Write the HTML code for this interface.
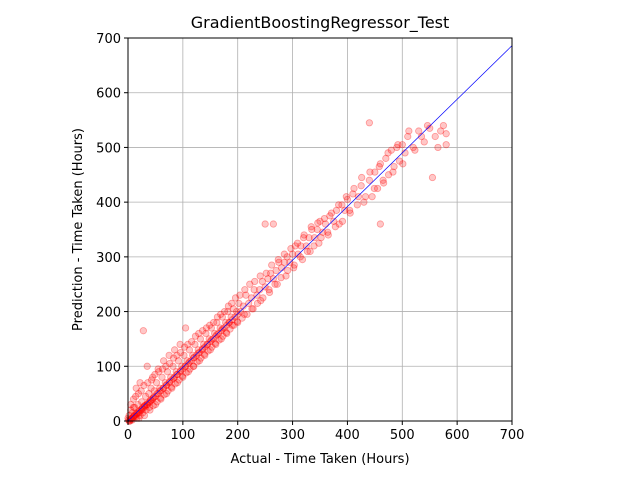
<!DOCTYPE html>
<html><head><meta charset="utf-8"><style>
html,body{margin:0;padding:0;background:#fff;}
svg{display:block;font-family:"DejaVu Sans","Liberation Sans",sans-serif;}
</style></head><body>
<svg id="chart" width="640" height="480">
<rect x="0" y="0" width="640" height="480" fill="#fff"/>
<text x="320" y="28" text-anchor="middle" font-size="16">GradientBoostingRegressor_Test</text>
<g id="grid"></g>
<g id="pts"></g>
<g id="ref"></g>
<rect x="128" y="38" width="384" height="383" fill="none" stroke="#000" stroke-width="1"/>
<g id="ticks"></g>
<text x="320" y="463" text-anchor="middle" font-size="13">Actual - Time Taken (Hours)</text>
<text transform="translate(82,229.5) rotate(-90)" text-anchor="middle" font-size="13">Prediction - Time Taken (Hours)</text>
</svg>
<script>
const xTicks=[0,100,200,300,400,500,600,700];
const yTicks=[0,100,200,300,400,500,600,700];
const actual=[0,2,3,5,5,8,10,10,12,15,15,18,20,20,22,25,25,28,30,30,32,35,35,38,40,40,42,45,45,48,50,50,52,55,55,58,60,60,62,65,65,68,70,70,72,75,75,78,80,80,82,85,85,88,90,90,92,95,95,98,100,100,102,105,105,108,110,110,112,115,118,120,120,122,125,128,130,130,132,135,138,140,140,142,145,148,150,150,152,155,158,160,160,162,165,168,170,170,172,175,178,180,180,182,185,188,190,190,192,195,198,200,200,202,205,210,212,215,220,225,228,230,235,240,242,245,250,255,258,260,265,270,272,275,280,285,288,290,295,300,302,305,310,315,318,320,325,330,332,335,340,345,348,350,355,360,365,368,375,380,385,390,395,400,405,410,420,425,430,440,445,450,455,460,465,470,475,480,485,490,495,500,505,510,520,530,540,550,555,560,570,580,580,440,460,250,265,1,4,6,9,12,14,17,20,24,27,30,34,38,42,46,2,7,11,16,21,26,31,36,41,47,53,58,64,70,76,83,89,96,104,112,120,128,136,144,152,162,172,184,
5,8,10,14,16,19,22,24,27,29,33,36,39,43,46,49,53,56,59,63,66,69,73,76,79,83,86,89,93,96,99,103,106,109,113,116,119,123,126,129,133,136,139,143,146,149,153,156,159,163,166,169,173,176,179,183,186,189,193,196,199,204,208,213,217,222,226,231,236,241,246,252,257,262,268,274,279,285,291,297,303,309,314,321,327,334,339,346,352,358,364,371,378,384,391,398,404,412,418,426,433,441,449,458,466,474,483,492,501,512,523,535,546,565,575];
const predicted=[5,10,0,20,3,15,8,40,25,12,60,30,18,5,70,22,35,165,28,10,45,30,100,50,35,20,60,40,80,55,45,30,70,50,95,60,55,40,80,60,110,70,65,50,90,70,120,80,75,60,100,80,130,90,85,70,110,90,140,100,95,80,120,100,170,110,105,90,130,110,120,115,100,140,120,130,125,110,150,130,140,135,120,160,140,150,145,130,170,150,160,155,140,180,160,170,165,150,190,170,180,175,160,200,180,190,185,175,205,190,200,195,180,215,200,210,195,230,215,225,205,240,230,240,220,255,245,260,235,270,260,275,250,290,280,290,265,300,290,305,280,320,305,320,295,335,320,335,310,350,335,350,325,365,345,360,340,375,365,385,360,395,385,405,380,415,410,430,400,440,410,455,425,470,440,480,450,495,465,500,475,505,490,520,500,530,510,535,445,520,530,505,525,545,360,360,360,2,0,4,6,10,8,14,15,20,22,26,30,33,38,42,0,5,9,14,18,24,28,33,38,43,50,55,60,66,72,78,85,92,100,108,116,124,132,140,148,158,168,180,
30,2,25,45,5,50,10,55,15,65,20,70,25,75,28,85,35,90,42,95,48,100,55,105,62,115,68,120,75,125,82,135,88,140,95,145,100,155,108,160,115,165,122,170,128,175,135,180,142,190,148,195,155,200,162,210,168,215,175,225,182,230,188,240,195,250,205,255,215,265,225,270,240,285,250,295,262,305,275,315,285,325,300,340,310,355,320,362,335,370,345,380,355,395,365,410,385,425,395,445,410,455,425,465,435,490,455,505,470,530,495,520,540,500,540];
const NS='http://www.w3.org/2000/svg';
const X0=128,X1=512,Y0=421,Y1=38;
const sx=v=>X0+(v/700)*(X1-X0);
const sy=v=>Y0-(v/700)*(Y0-Y1);
const grid=document.getElementById('grid'),ticks=document.getElementById('ticks'),pts=document.getElementById('pts'),ref=document.getElementById('ref');
xTicks.forEach(t=>{
 const l=document.createElementNS(NS,'line');
 l.setAttribute('x1',sx(t));l.setAttribute('x2',sx(t));l.setAttribute('y1',Y1);l.setAttribute('y2',Y0);
 l.setAttribute('stroke','#b0b0b0');l.setAttribute('stroke-width','0.8');
 
 
 grid.appendChild(l);
 const tk=document.createElementNS(NS,'line');
 tk.setAttribute('x1',sx(t));tk.setAttribute('x2',sx(t));tk.setAttribute('y1',Y0);tk.setAttribute('y2',Y0+4);tk.setAttribute('stroke','#000');
 
 
 ticks.appendChild(tk);
 const tx=document.createElementNS(NS,'text');
 tx.setAttribute('x',sx(t));tx.setAttribute('y',Y0+18);tx.setAttribute('text-anchor','middle');tx.setAttribute('font-size','13');
 tx.textContent=t;
 
 
 ticks.appendChild(tx);
});
yTicks.forEach(t=>{
 const l=document.createElementNS(NS,'line');
 l.setAttribute('x1',X0);l.setAttribute('x2',X1);l.setAttribute('y1',sy(t));l.setAttribute('y2',sy(t));
 l.setAttribute('stroke','#b0b0b0');l.setAttribute('stroke-width','0.8');
 
 
 grid.appendChild(l);
 const tk=document.createElementNS(NS,'line');
 tk.setAttribute('x1',X0-4);tk.setAttribute('x2',X0);tk.setAttribute('y1',sy(t));tk.setAttribute('y2',sy(t));tk.setAttribute('stroke','#000');
 
 
 ticks.appendChild(tk);
 const tx=document.createElementNS(NS,'text');
 tx.setAttribute('x',X0-7);tx.setAttribute('y',sy(t)+5);tx.setAttribute('text-anchor','end');tx.setAttribute('font-size','13');
 tx.textContent=t;
 
 
 ticks.appendChild(tx);
});
const n=Math.min(actual.length,predicted.length);
for(let i=0;i<n;i++){
 const c=document.createElementNS(NS,'circle');
 c.setAttribute('cx',sx(actual[i]));c.setAttribute('cy',sy(predicted[i]));c.setAttribute('r','3.2');
 c.setAttribute('fill','rgba(255,0,0,0.22)');c.setAttribute('stroke','rgba(255,0,0,0.35)');c.setAttribute('stroke-width','0.8');
 
 
 pts.appendChild(c);
}
const ln=document.createElementNS(NS,'line');
ln.setAttribute('x1',sx(0));ln.setAttribute('y1',sy(0));ln.setAttribute('x2',sx(700));ln.setAttribute('y2',sy(686));
ln.setAttribute('stroke','#0000ff');ln.setAttribute('stroke-width','0.7');


ref.appendChild(ln);
</script>
</body></html>
